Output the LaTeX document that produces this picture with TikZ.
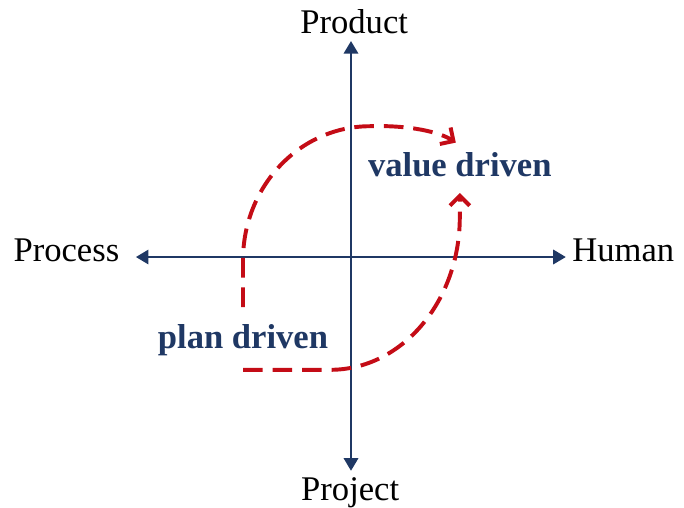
\documentclass[tikz,border=0pt]{standalone}
\usepackage{fontspec}
\setmainfont{Liberation Serif}
\usepackage{tikz}
\usetikzlibrary{arrows.meta,positioning}
\definecolor{navy}{RGB}{31,56,100}
\definecolor{darkred}{RGB}{196,12,22}

\begin{document}
\begin{tikzpicture}[
                    axis/.style={draw=navy,line width=1.05pt,-{Triangle[width=5pt,length=4.5pt]}},
                    flow/.style={draw=darkred,line width=1.4pt,dash pattern=on 7pt off 3.5pt,-{Straight Barb[width=7pt,length=3.5pt]}},
                    axislabel/.style={inner sep=0,font=\fontsize{12.3}{14}\selectfont},
                    approach/.style={fill=white,text=navy,inner sep=1pt,font=\fontsize{12.3}{14}\selectfont\bfseries}
                ]
                    \useasboundingbox (-4.3875,-3.125) rectangle (4.1625,3.2125);
                    \coordinate (o) at (0,0);
                    \node[axislabel,anchor=base] (product) at (0.04,2.8) {Product};
                    \node[axislabel,anchor=base] (project) at (-0.01,-3.04) {Project};
                    \node[axislabel,anchor=base east] (process) at (-2.89,-0.06) {Process};
                    \node[axislabel,anchor=base west] (human) at (2.76,-0.06) {Human};
                    \draw[axis,shorten >=5.7pt] (o) -- (o -| process.east);
                    \draw[axis,shorten >=2.1pt] (o) -- (o -| human.west);
                    \draw[axis,shorten >=2.5pt] (o) -- (o |- product.south);
                    \draw[axis,shorten >=2.1pt] (o) -- (o |- project.north);
                    \node[approach] (value) at (1.36,1.15) {value driven};
                    \node[approach] (plan) at (-1.35,-1.04) {plan driven};
                    \coordinate (corner) at (-1.35,-1.41);
                    \coordinate (valuetop) at (1.31,1.43);
                    \coordinate (valueside) at (1.36,0.8);
                    \draw[flow,shorten <=5pt] (plan.north) -- (-1.35,-0.04)
                        arc[start angle=180,end angle=90,x radius=1.59,y radius=1.675]
                        .. controls (0.74,1.65) and (1.11,1.56) .. (valuetop);
                    \draw[flow] (corner) -- (-0.26,-1.41)
                        arc[start angle=-90,end angle=0,x radius=1.62,y radius=1.91]
                        -- (valueside);
                \end{tikzpicture}
\end{document}
